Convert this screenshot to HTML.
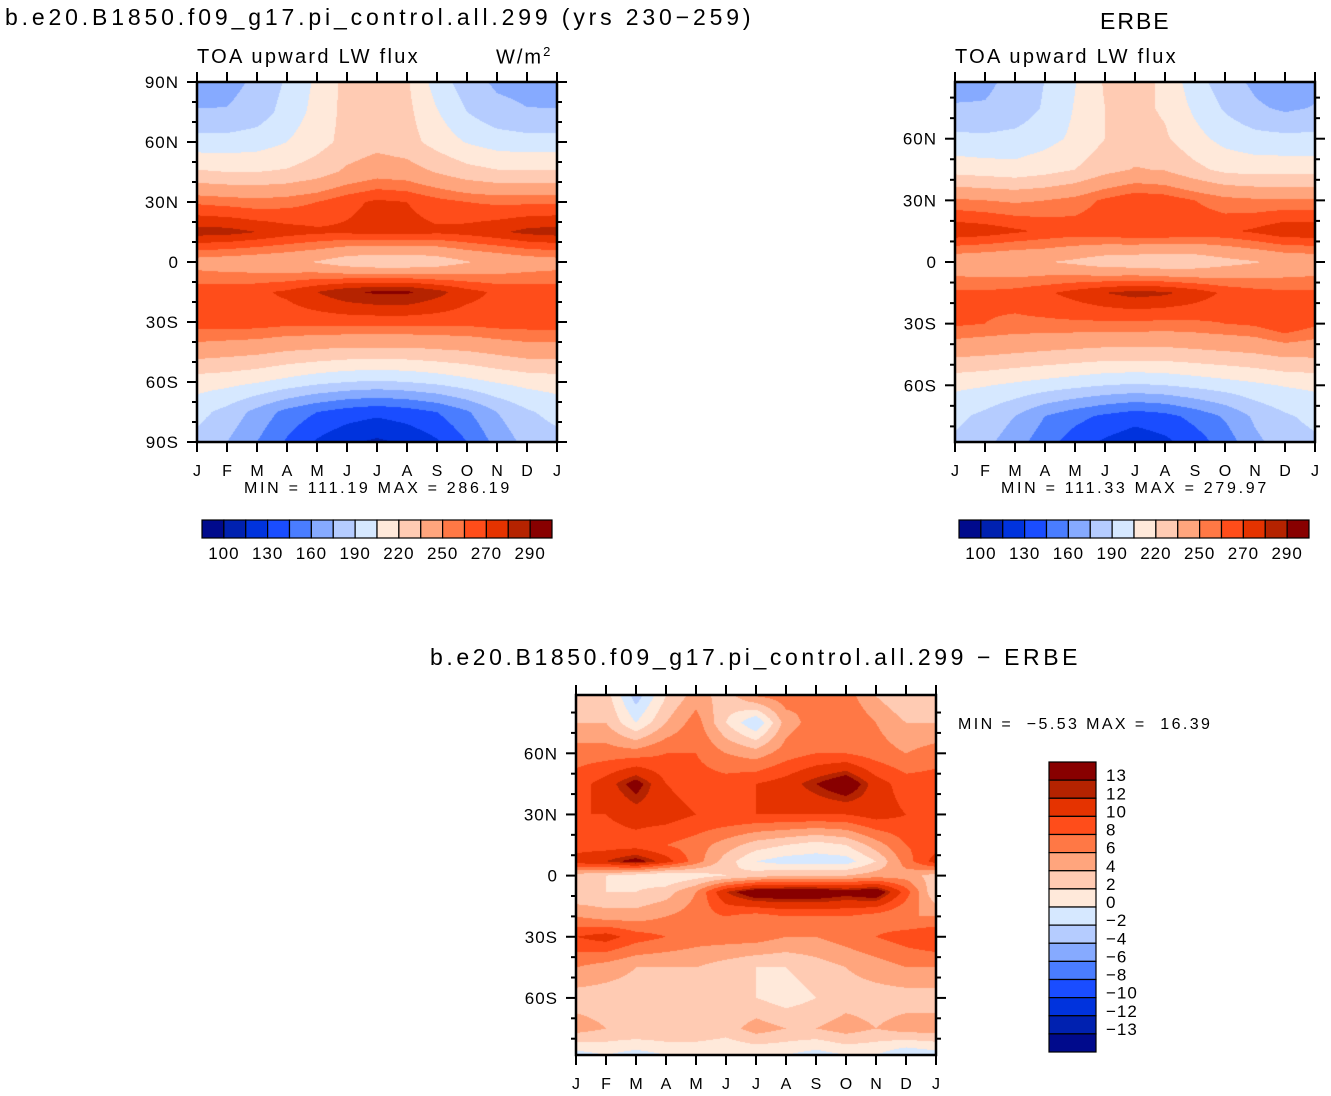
<!DOCTYPE html>
<html><head><meta charset="utf-8">
<style>
body{margin:0;background:#fff;width:1331px;height:1096px;position:relative;overflow:hidden;font-family:"Liberation Sans",sans-serif;color:#000}
.t{position:absolute;white-space:nowrap}
canvas{position:absolute}
svg{position:absolute;left:0;top:0}
</style></head><body>
<div class="t" style="left:5px;top:4px;font-size:23px;letter-spacing:3.85px">b.e20.B1850.f09_g17.pi_control.all.299 (yrs 230−259)</div>
<div class="t" style="left:1100px;top:8px;font-size:23px;letter-spacing:2px">ERBE</div>
<div class="t" style="left:197px;top:46px;font-size:20px;letter-spacing:2.3px">TOA upward LW flux</div>
<div class="t" style="left:496px;top:44px;font-size:20px;letter-spacing:2px">W/m<sup style="font-size:13px">2</sup></div>
<div class="t" style="left:955px;top:46px;font-size:20px;letter-spacing:2.3px">TOA upward LW flux</div>
<div class="t" style="left:244px;top:480px;font-size:16px;letter-spacing:2.7px">MIN = 111.19 MAX = 286.19</div>
<div class="t" style="left:1001px;top:480px;font-size:16px;letter-spacing:2.7px">MIN = 111.33 MAX = 279.97</div>
<div class="t" style="left:430px;top:644px;font-size:23px;letter-spacing:3.6px">b.e20.B1850.f09_g17.pi_control.all.299 − ERBE</div>
<div class="t" style="left:958px;top:716px;font-size:16px;letter-spacing:2.4px">MIN = &nbsp;−5.53 MAX = &nbsp;16.39</div>
<canvas id="c1" width="360" height="360" style="left:197px;top:82px"></canvas>
<canvas id="c2" width="360" height="360" style="left:955px;top:82px"></canvas>
<canvas id="c3" width="360" height="360" style="left:576px;top:695px"></canvas>
<svg id="ov" width="1331" height="1096"></svg>
<script>
const colors=["#000a8c","#0021b0","#0033dd","#1a4dff","#4a7dff","#86aaff","#b5ccff","#d6e8ff","#ffe9da","#ffcbb3","#ffa57d","#ff7845","#ff4d1a","#e53300","#b52300","#880000"];
const absLevels=[100,115,130,145,160,175,190,205,220,235,250,260,270,280,290];
const absLabels=["100","130","160","190","220","250","270","290"];
const diffLevels=[-13,-12,-10,-8,-6,-4,-2,0,2,4,6,8,10,12,13];
const diffLabels=["13","12","10","8","6","4","2","0","−2","−4","−6","−8","−10","−12","−13"];
const months=["J","F","M","A","M","J","J","A","S","O","N","D","J"];
const absLats=[90,75,60,45,30,15,0,-15,-30,-45,-60,-75,-90];
const modelVals=[
[168,170,178,192,208,225,228,222,198,182,172,170],
[176,176,182,196,210,225,228,224,206,190,180,176],
[196,196,198,205,214,225,230,226,214,204,198,196],
[222,220,220,222,228,238,244,242,234,226,222,222],
[258,256,254,256,260,267,272,270,264,260,258,258],
[285,284,280,275,272,272,274,274,272,274,278,283],
[244,242,240,238,234,226,222,222,226,234,238,242],
[266,266,268,272,280,288,292,292,284,274,268,266],
[266,266,266,264,264,264,264,264,264,264,266,266],
[242,240,238,234,232,230,230,230,232,234,238,242],
[212,210,206,200,194,190,188,190,194,200,206,210],
[195,185,170,155,145,138,134,138,145,158,175,188],
[185,175,160,143,128,118,112,118,128,145,165,180]];
const erbeVals=[
[170,172,178,190,204,222,224,218,194,182,170,158],
[176,176,180,192,206,220,224,218,202,188,178,172],
[194,193,195,200,208,220,226,222,210,200,195,194],
[214,212,210,214,220,230,236,234,224,216,214,214],
[252,250,248,250,254,262,268,266,260,254,252,252],
[278,276,272,268,266,268,270,270,268,268,272,278],
[240,238,236,236,232,226,224,222,224,230,234,238],
[262,262,264,268,274,280,284,282,276,268,264,262],
[262,260,258,258,258,258,258,257,258,260,262,270],
[238,236,234,232,230,228,228,228,230,232,234,238],
[208,206,202,198,194,190,188,190,194,198,202,206],
[194,186,175,160,150,142,136,140,150,162,178,188],
[186,178,165,150,135,125,118,124,135,150,170,182]];
const diffLats=[88,75,60,45,30,15,7,0,-8,-20,-30,-45,-60,-75,-88];
const diffVals=[
[2,3,-3,2,5,3,6,7,6,7,4,2],
[4,4,0,4,7,2,-2,5,7,8,6,4],
[7,7,7,8,8,6,5,7,8,8,7,6],
[9,11,14,10,9,9,10,11,13,15,11,9],
[10,10,11,11,10,10,10,10,10,10,11,10],
[9,9,9,8,7,5,3,2,1,2,5,8],
[11,12,14,11,7,3,0,-1,-1,-1,2,7],
[3,2,1,0,1,2,3,4,4,4,5,5],
[2,2,2,3,6,12,15,15,15,14,15,9],
[6,5,5,6,7,8,7,8,8,8,7,6],
[10,11,9,8,7,7,7,6,6,7,8,9],
[6,5,4,4,4,3,2,2,3,4,5,6],
[3,3,3,4,3,2,2,1,2,3,3,3],
[5,4,4,4,4,3,5,4,4,5,4,5],
[-1,0,-1,0,0,0,0,0,-1,0,0,-2]];

function hex(c){return [parseInt(c.slice(1,3),16),parseInt(c.slice(3,5),16),parseInt(c.slice(5,7),16)];}
const rgb=colors.map(hex);
function cls(v,lv){let i=0;while(i<lv.length&&v>=lv[i])i++;return i;}
function sample(vals,lats,lat,m){
  let r=0;while(r<lats.length-2&&lat<lats[r+1])r++;
  let f=(lats[r]-lat)/(lats[r]-lats[r+1]);f=Math.max(0,Math.min(1,f));
  const n=vals[0].length;let m0=Math.floor(m)%n,m1=(m0+1)%n,g=m-Math.floor(m);
  const a=vals[r][m0]*(1-g)+vals[r][m1]*g,b=vals[r+1][m0]*(1-g)+vals[r+1][m1]*g;
  return a*(1-f)+b*f;
}
function draw(id,vals,lats,latTop,latBot,lv){
  const cv=document.getElementById(id),ctx=cv.getContext('2d'),W=cv.width,H=cv.height;
  const img=ctx.createImageData(W,H);
  for(let y=0;y<H;y++){const lat=latTop-(y+0.5)/H*(latTop-latBot);
    for(let x=0;x<W;x++){const m=(x+0.5)/W*12;const c=rgb[cls(sample(vals,lats,lat,m),lv)];
      const k=(y*W+x)*4;img.data[k]=c[0];img.data[k+1]=c[1];img.data[k+2]=c[2];img.data[k+3]=255;}}
  ctx.putImageData(img,0,0);
}
draw('c1',modelVals,absLats,90,-90,absLevels);
draw('c2',erbeVals,absLats,87.6,-87.6,absLevels);
draw('c3',diffVals,diffLats,88.6,-88,diffLevels);

const NS="http://www.w3.org/2000/svg",ov=document.getElementById('ov');
function el(t,a,txt){const e=document.createElementNS(NS,t);for(const k in a)e.setAttribute(k,a[k]);if(txt!==undefined)e.textContent=txt;ov.appendChild(e);return e;}
function axes(x0,y0,latTop,latBot,labels,name){
  const W=360,H=360;
  const fr=el('rect',{x:x0,y:y0,width:W,height:H,fill:'none',stroke:'#000','stroke-width':2.5});
  
  
  const yOf=l=>y0+(latTop-l)/(latTop-latBot)*H;
  for(let l=-90;l<=90;l+=10){if(l>latTop+0.01||l<latBot-0.01)continue;const y=yOf(l),maj=l%30===0,len=maj?10:5;
    el('line',{x1:x0-len,y1:y,x2:x0,y2:y,stroke:'#000','stroke-width':2});
    el('line',{x1:x0+W,y1:y,x2:x0+W+len,y2:y,stroke:'#000','stroke-width':2});
    if(maj&&labels){const s=l===0?'0':Math.abs(l)+(l>0?'N':'S');
      const tx=el('text',{x:x0-18,y:y+6,'font-size':17,'text-anchor':'end','font-family':'Liberation Sans','letter-spacing':1},s);
      
      }}
  months.forEach((m,i)=>{const x=x0+i*W/12;
    el('line',{x1:x,y1:y0-10,x2:x,y2:y0,stroke:'#000','stroke-width':2});
    el('line',{x1:x,y1:y0+H,x2:x,y2:y0+H+10,stroke:'#000','stroke-width':2});
    const tx=el('text',{x:x,y:y0+H+34,'font-size':16,'text-anchor':'middle','font-family':'Liberation Sans'},m);
    
    });
}
axes(197,82,90,-90,true,'model');
axes(955,82,87.6,-87.6,true,'erbe');
axes(576,695,88.6,-88,true,'diff');
function hbar(x0,y0,w,h,name){
  const bw=w/16;
  colors.forEach((c,i)=>{const r=el('rect',{x:x0+i*bw,y:y0,width:bw,height:h,fill:c,stroke:'#000','stroke-width':1.2});
    
    });
  absLabels.forEach((s,j)=>{const i=2*j+1;const tx=el('text',{x:x0+i*bw,y:y0+h+21,'font-size':17,'text-anchor':'middle','font-family':'Liberation Sans','letter-spacing':1},s);
    
    });
}
hbar(202,520,350,18,'model-colorbar');
hbar(959,520,350,18,'erbe-colorbar');
(function(){const x0=1049,y0=762,w=47,h=290,bh=h/16;
  colors.slice().reverse().forEach((c,i)=>{const r=el('rect',{x:x0,y:y0+i*bh,width:w,height:bh,fill:c,stroke:'#000','stroke-width':1.2});
    
    });
  diffLabels.forEach((s,i)=>{const tx=el('text',{x:1106,y:y0+(i+1)*bh+1,'font-size':17,'font-family':'Liberation Sans','letter-spacing':1},s);
    
    });
})();
</script>
</body></html>
